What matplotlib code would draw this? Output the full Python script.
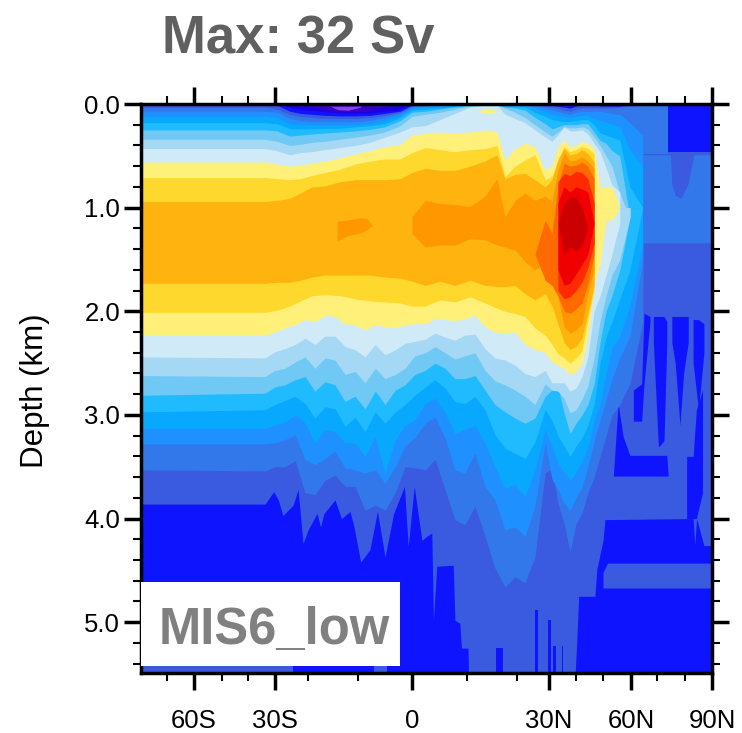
import numpy as np
import matplotlib
matplotlib.use("Agg")
import matplotlib.pyplot as plt
from matplotlib.patches import Rectangle

plt.rcParams['font.family'] = ['Liberation Sans', 'DejaVu Sans']
nan = np.nan

# non linear latitude axis of the original plot
axis_lat = [-80, -70, -60, -50, -40, -30, -20, -10, 0, 10, 20, 30, 40, 50, 60, 70, 80, 90]
axis_pos = [0, 26, 53, 81, 107, 134, 167, 217, 271, 326, 376, 408, 435, 462, 490, 516, 544, 571]

major_lat = [-60, -30, 0, 30, 60, 90]
major_names = ['60S', '30S', '0', '30N', '60N', '90N']
minor_lat = [-70, -50, -40, -20, -10, 10, 20, 40, 50, 70, 80]

# streamfunction levels: depth (km) of the upper and lower edge of each band
lat = [-80, -33.7, -29.4, -25.5, -22.4, -19.2, -16.6, -13.6, -10.6, -7.8,
       -5, -2.2, 0, 2.4, 5.1, 7.8, 10.6, 13.6, 16, 17.6,
       19.6, 22.5, 25.6, 28.8, 31.1, 33.3, 35.6, 37.8, 40, 42.2,
       44.4, 46.7, 48.9, 51.1, 53.2, 56, 59.6, 64.5, 64.7, 90]

# lower edges of bands 2-9 wiggle more, so they get a finer latitude list
lat_low = [-80, -33.7, -30, -27, -23.9, -20.9, -18.6, -16.6, -14.6, -12.6, -10.6, -8.7, -6.8, -5, -3.1, -1.3,
           .5, 2.4, 4.2, 6, 7.8, 9.6, 11.6, 13.6, 15.6, 17.6, 19.6, 22.5, 25.6, 28.8,
           31.1, 33.3, 35.6, 37.8, 40, 42.2, 44.4, 46.7, 48.9, 51.1, 53.2, 56, 59.6, 64.5, 64.7, 90]

surface_b0 = [0, 0, .01, .07, .09, .10, .11, .115, .115, .11,
              .09, .07, .01, 0, 0, 0, 0, 0, 0, 0,
              0, 0, 0, .01, .01, .02, .03, .04, .02, 0,
              0, 0, .02, .02, .02, .02, 0, 0, 0, 0]

top_b2 = [.03, .03, .05, .10, .12, .13, .14, .14, .14, .13,
          .11, .08, .02, .01, .01, .01, .01, .01, .01, .01,
          .01, .01, .01, .02, .03, .04, .06, .07, .05, .04,
          .04, .04, .04, .04, .04, .03, .02, .01, .01, nan]
bot_b2 = [3.53, 3.54, 3.50, 3.50, 3.44, 3.75, 3.77, 3.63, 3.58, 3.69, 3.69, 3.92, 3.87, 3.92, 3.75, 3.50,
          3.51, 3.53, 3.43, 3.72, 4.01, 4.06, 3.88, 4.17, 4.48, 4.66, 4.56, 4.62, 4.37, 3.56,
          3.52, 3.85, 4.05, 4.32, 4.05, 3.95, 3.75, 3.6, 3.4, 3.2, 3.0, 2.9, 2.7, 2.1, 1.34, nan]
top_b3 = [.07, .07, .08, .14, .16, .17, .17, .17, .17, .16,
          .13, .09, .03, .02, .01, .01, .01, .01, .01, .01,
          .01, .01, .02, .04, .06, .07, .09, .10, .08, .07,
          .07, .07, .07, .08, .09, .10, .18, .30, nan, nan]
bot_b3 = [3.28, 3.28, 3.27, 3.24, 3.19, 3.43, 3.48, 3.42, 3.35, 3.51, 3.53, 3.56, 3.53, 3.66, 3.50, 3.30,
          3.22, 3.08, 3.02, 3.22, 3.53, 3.56, 3.37, 3.69, 3.82, 4.11, 4.08, 4.17, 3.88, 3.27,
          3.62, 3.72, 3.85, 3.92, 3.80, 3.70, 3.50, 3.25, 3.05, 2.85, 2.65, 2.45, 2.24, 1.5, nan, nan]
top_b4 = [.12, .12, .13, .19, .20, .20, .20, .20, .20, .19,
          .16, .11, .04, .03, .02, .01, .01, .01, .01, .01,
          .01, .01, .04, .07, .10, .11, .12, .13, .12, .11,
          .11, .14, .16, .18, .19, .22, .44, .6, nan, nan]
bot_b4 = [3.13, 3.13, 3.10, 3.07, 3.00, 3.08, 3.27, 3.14, 3.16, 3.27, 3.27, 3.40, 3.21, 3.56, 3.24, 3.10,
          3.05, 2.89, 2.84, 2.98, 3.18, 3.14, 3.10, 3.27, 3.50, 3.71, 3.67, 3.79, 3.53, 3.14,
          3.30, 3.47, 3.55, 3.63, 3.55, 3.45, 3.32, 3.05, 2.89, 2.6, 2.35, 2.24, 1.95, 1.35, nan, nan]
top_b5 = [.18, .18, .19, .24, .24, .24, .235, .235, .22, .21,
          .19, .13, .06, .05, .04, .02, .01, .01, .01, .02,
          .02, .03, .08, .12, .15, .16, .17, .17, .16, .15,
          .15, .20, .28, .30, .32, .35, .80, 1.0, nan, nan]
bot_b5 = [2.97, 2.95, 2.90, 2.86, 2.82, 2.89, 3.03, 2.92, 2.94, 3.11, 3.02, 3.16, 2.97, 3.08, 2.97, 2.90,
          2.81, 2.73, 2.66, 2.74, 2.87, 2.89, 2.82, 2.95, 3.19, 3.32, 3.37, 3.42, 3.26, 2.95,
          3.05, 3.20, 3.30, 3.40, 3.30, 3.22, 3.10, 2.90, 2.5, 2.25, 2.10, 1.88, 1.6, 1.0, nan, nan]
top_b6 = [.25, .25, .26, .31, .30, .29, .28, .27, .26, .245,
          .22, .16, .08, .07, .05, .03, .01, .01, .01, .03,
          .04, .06, .13, .19, .24, .22, .20, .20, .20, .19,
          .19, .27, .35, .38, .45, .50, 1.1, nan, nan, nan]
bot_b6 = [2.81, 2.79, 2.73, 2.71, 2.66, 2.63, 2.77, 2.68, 2.71, 2.87, 2.82, 2.94, 2.77, 2.90, 2.76, 2.71,
          2.61, 2.57, 2.50, 2.55, 2.65, 2.65, 2.62, 2.76, 2.90, 2.97, 3.03, 3.08, 3.03, 2.82,
          2.76, 2.73, 2.98, 3.18, 3.08, 3.00, 2.90, 2.70, 2.3, 2.0, 1.85, 1.6, 1.1, nan, nan, nan]
top_b7 = [.34, .34, .36, .40, .39, .37, .36, .34, .32, .30,
          .27, .21, .12, .10, .08, .05, .02, .01, .01, .04,
          .08, .13, .20, .27, .31, .27, .22, .23, .23, .22,
          .24, .32, .40, .50, .60, .86, 1.1, nan, nan, nan]
bot_b7 = [2.62, 2.63, 2.57, 2.55, 2.49, 2.44, 2.55, 2.45, 2.47, 2.61, 2.58, 2.69, 2.55, 2.65, 2.61, 2.55,
          2.43, 2.40, 2.34, 2.40, 2.46, 2.43, 2.40, 2.57, 2.67, 2.71, 2.76, 2.82, 2.90, 2.70,
          2.76, 2.77, 2.84, 2.98, 2.95, 2.85, 2.72, 2.45, 2.1, 1.85, 1.65, 1.5, 1.1, nan, nan, nan]
top_b8 = [.43, .43, .45, .49, .47, .46, .44, .42, .40, .37,
          .32, .27, .22, .21, .15, .09, .03, .01, .01, .10,
          .14, .18, .25, .32, .36, .30, .22, .26, .26, .25,
          .29, .38, .46, .62, .78, .85, nan, nan, nan, nan]
bot_b8 = [2.44, 2.45, 2.39, 2.36, 2.32, 2.26, 2.32, 2.24, 2.24, 2.34, 2.37, 2.44, 2.32, 2.42, 2.37, 2.31,
          2.29, 2.27, 2.21, 2.25, 2.28, 2.23, 2.22, 2.36, 2.45, 2.47, 2.52, 2.60, 2.63, 2.57,
          2.69, 2.69, 2.69, 2.77, 2.74, 2.63, 2.44, 2.0, 1.85, 1.65, 1.45, 1.15, nan, nan, nan, nan]
top_b9 = [.56, .56, .58, .60, .59, .57, .55, .52, .48, .45,
          .41, .39, .30, .28, .27, .28, .27, .25, .27, .54,
          .43, .38, .41, .64, .60, .41, .35, .41, .40, .36,
          .38, .43, .80, .80, .80, 1.0, nan, nan, nan, nan]
bot_b9 = [2.23, 2.23, 2.20, 2.16, 2.13, 2.08, 2.10, 2.04, 2.05, 2.12, 2.13, 2.18, 2.13, 2.15, 2.16, 2.13,
          2.12, 2.12, 2.07, 2.08, 2.09, 2.07, 2.04, 2.15, 2.20, 2.21, 2.20, 2.32, 2.37, 2.40,
          2.49, 2.52, 2.55, 2.61, 2.58, 2.50, 2.24, 1.73, 1.55, 1.12, 1.12, 1.0, nan, nan, nan, nan]

top_b10 = [.71, .71, .72, .73, .72, .69, .66, .63, .58, .55,
           .53, .53, .47, .42, .44, .46, .44, .43, .40, .70,
           .60, .54, .49, .73, .70, .54, .41, .46, .44, .41,
           .43, .48, nan, nan, nan, nan, nan, nan, nan, nan]
bot_b10 = [2.01, 2.01, 1.99, 1.95, 1.90, 1.85, 1.84, 1.85, 1.88, 1.90,
           1.91, 1.92, 1.95, 1.95, 1.89, 1.91, 1.86, 1.92, 1.97, 2.00,
           2.02, 2.05, 2.16, 2.23, 2.32, 2.41, 2.45, 2.50, 2.45, 2.38,
           2.08, 1.80, nan, nan, nan, nan, nan, nan, nan, nan]
top_b11 = [.94, .94, .93, .91, .86, .80, .79, .75, .73, .73,
           .73, .72, .66, .62, .64, .64, .60, .55, .49, .72,
           .68, .67, .73, .80, .73, .54, .43, .49, .48, .44,
           .48, .56, nan, nan, nan, nan, nan, nan, nan, nan]
bot_b11 = [1.73, 1.73, 1.72, 1.72, 1.70, 1.67, 1.65, 1.65, 1.65, 1.65,
           1.67, 1.68, 1.71, 1.75, 1.71, 1.75, 1.70, 1.75, 1.76, 1.76,
           1.75, 1.83, 1.89, 1.83, 1.95, 2.12, 2.30, 2.37, 2.34, 2.26,
           2.02, 1.75, nan, nan, nan, nan, nan, nan, nan, nan]
top_b12 = [nan, nan, nan, nan, nan, nan, nan, nan, nan, nan,
           nan, nan, 1.09, .93, .96, .97, .99, .89, .72, 1.09,
           .93, .86, .93, .89, .94, .64, .47, .55, .54, .51,
           .55, .62, nan, nan, nan, nan, nan, nan, nan, nan]
bot_b12 = [nan, nan, nan, nan, nan, nan, nan, nan, nan, nan,
           nan, nan, 1.25, 1.38, 1.36, 1.36, 1.30, 1.31, 1.36, 1.38,
           1.41, 1.52, 1.60, 1.54, 1.62, 1.86, 2.15, 2.21, 2.18, 2.12,
           1.83, 1.60, nan, nan, nan, nan, nan, nan, nan, nan]

# core of the northern cell
top_b13 = [1.45, 1.12, 1.25, .78, .57, .60, .59, .56, .60, .72]
bot_b13 = [1.45, 1.70, 1.75, 1.85, 2.00, 2.02, 1.98, 1.92, 1.74, 1.45]
top_b14 = [.75, .67, .69, .65, .66, .72, .95]
bot_b14 = [1.80, 1.88, 1.86, 1.80, 1.72, 1.58, 1.35]
top_b15 = [.95, .80, .85, .80, .82, .85, 1.15]
bot_b15 = [1.6, 1.75, 1.73, 1.64, 1.55, 1.45, 1.15]
top_b16 = [1.15, .95, .90, .90, 1.0, 1.2]
bot_b16 = [1.15, 1.45, 1.38, 1.42, 1.36, 1.2]

# lower edge of band 1, spiky
lat_b1 = [-80, -33.7, -30.5, -29, -27.6, -24.5, -23, -21.5, -20, -18.2, -17.5, -16.8,
          -14.6, -13.3, -11.6, -10.8, -9.5, -7.8, -6.4, -5, -3.4, -1.4, -.7, .4, 1.8,
          2.7, 3.6, 3.9, 4.5, 7.5, 7.8, 8.7, 9, 10.2, 10.3, 39.7, 40.2, 41, 47, 47.7,
          50, 50.7, 83, 83.6, 84.3, 87, 90]
bot_b1 = [3.86, 3.86, 3.74, 3.82, 3.97, 3.87, 3.72, 4.24, 4.11, 3.95, 4.08, 3.95,
          3.82, 4.0, 3.93, 4.08, 4.42, 4.30, 3.93, 4.37, 3.95, 3.69, 4.27, 3.69, 4.21,
          4.17, 4.14, 4.98, 4.46, 4.45, 4.98, 5.01, 5.25, 5.25, 5.49, 5.49, 5.23, 4.75, 4.75, 4.49,
          4.21, 4.01, 4.0, 4.25, 4.0, 4.26, 4.26]

# small separate pieces of a band
island_lat = [-14.2, -12, -10, -8.5, -7.3]
island_top = [1.13, 1.12, 1.10, 1.10, 1.17]
island_bot = [1.32, 1.27, 1.25, 1.22, 1.17]
north_b1_lat = [50, 51.6, 90]
north_b1_top = [4.52, 4.43, 4.43]
north_b1_bot = [4.67, 4.67, 4.67]
north_b2_lat = [64.7, 74.8, 75.3, 76.5, 78.5, 81, 83.3, 90]
north_b2_top = [.49, .49, .78, .88, .91, .78, .49, .49]
north_b2_bot = [1.34, 1.34, 1.34, 1.34, 1.34, 1.34, 1.34, 1.34]
north_b2b_lat = [64.7, 72.5, 73.8]
north_b2b_top = [0, 0, 0]
north_b2b_bot = [.48, .48, .48]
strip_lat = [-80, -24.5]
strip_top = [5.42, 5.42]
strip_bot = [5.49, 5.49]
strip2_lat = [-7, -4.6]
yellow_lat = [13, 15.5]
yellow_top = [.06, .06]
yellow_bot = [.09, .09]

# negative cell at the surface
lens1_lat = [-28.5, -23.4, -15.6, -9, -2.8, -.4]
lens1_bot = [0, .05, .08, .09, .06, .01]
lens2_lat = [-23, -15.6, -9, -3.5]
lens2_bot = [0, .06, .065, .01]
lens3_lat = [-15.6, -14, -12, -9.5]
lens3_top = [.02, .02, .02, .02]
lens3_bot = [.02, .055, .06, .03]

# parts of the deep north where band 0 shows through band 1
hole_a_lat = [53.7, 55.4, 57.2, 59.6, 73.5, 74]
hole_a_top = [3.59, 2.89, 3.21, 3.39, 3.39, 3.59]
hole_a_bot = [3.59, 3.59, 3.59, 3.59, 3.59, 3.59]
hole_b_lat = [60.9, 64.1, 65, 67.3]
hole_b_top = [2.76, 2.70, 2.02, 2.05]
hole_b_bot = [3.06, 3.06, 2.70, 2.10]
hole_c_lat = [68.6, 70.5, 72.5, 73.5]
hole_c_top = [2.05, 2.05, 2.05, 2.10]
hole_c_bot = [2.3, 3.31, 3.25, 2.3]
hole_d_lat = [75.3, 76.5, 78.2, 79.5, 81.2]
hole_d_top = [2.05, 2.05, 2.05, 2.05, 2.05]
hole_d_bot = [2.3, 2.5, 3.1, 2.6, 2.3]
hole_e_lat = [83, 85, 87]
hole_e_top = [2.08, 2.08, 2.12]
hole_e_bot = [2.5, 2.95, 2.4]
hole_f_lat = [80.6, 83, 84.2, 86.5]
hole_f_top = [3.40, 3.40, 2.95, 2.76]
hole_f_bot = [4.0, 4.0, 4.0, 3.75]
hole_g_lat = [74, 90]
hole_g_top = [0, 0]
hole_g_bot = [.46, .46]
thin_lat = [[15.8, 17.2], [25.6, 26.5], [29.7, 30.6], [31.5, 32.5], [34.8, 35.3]]
thin_top = [5.25, 4.88, 4.98, 5.23, 5.23]

band_colors = ['#0f14ff', '#3a5ae0', '#3278ea', '#1f90ff', '#08a8ff', '#20bbff', '#70c8f5',
               '#a5d8f5', '#d0eaf8', '#fff07a', '#ffd82e', '#ffb30f', '#ff9800', '#ff6a00',
               '#ff2a00', '#f00000', '#cc0000']
lens_colors = ['#1c00e0', '#3b00c8', '#9040ee']
title_color = '#606060'
label_color = '#808080'


def to_axis(x):
    return np.interp(x, axis_lat, axis_pos)


def from_axis(x):
    return np.interp(x, axis_pos, axis_lat)


fig = plt.figure(figsize=(7.42, 7.33), dpi=100)
ax = fig.add_axes([141/742, 60/733, 571/742, 569/733])
ax.set_xscale('function', functions=(to_axis, from_axis))
ax.set_facecolor(band_colors[0])


def band(x, top, bot, color):
    ax.fill_between(x, top, bot, color=color, linewidth=0)


band(strip_lat, strip_top, strip_bot, band_colors[1])
band(strip2_lat, strip_top, strip_bot, band_colors[1])
band(lat_b1, 0, bot_b1, band_colors[1])
band(north_b1_lat, north_b1_top, north_b1_bot, band_colors[1])

for hx, ht, hb in [(hole_a_lat, hole_a_top, hole_a_bot), (hole_b_lat, hole_b_top, hole_b_bot),
                   (hole_c_lat, hole_c_top, hole_c_bot), (hole_d_lat, hole_d_top, hole_d_bot),
                   (hole_e_lat, hole_e_top, hole_e_bot), (hole_f_lat, hole_f_top, hole_f_bot),
                   (hole_g_lat, hole_g_top, hole_g_bot)]:
    band(hx, ht, hb, band_colors[0])
for hx, ht in zip(thin_lat, thin_top):
    band(hx, ht, 5.49, band_colors[0])

band(lat, 0, surface_b0, band_colors[0])
band(lens1_lat, 0, lens1_bot, lens_colors[0])
band(lens2_lat, 0, lens2_bot, lens_colors[1])
band(lens3_lat, lens3_top, lens3_bot, lens_colors[2])
band(north_b2_lat, north_b2_top, north_b2_bot, band_colors[2])
band(north_b2b_lat, north_b2b_top, north_b2b_bot, band_colors[2])

# upper part on lat, lower part on lat_low, they meet at 1 km
tops = [top_b2, top_b3, top_b4, top_b5, top_b6, top_b7, top_b8, top_b9]
bots = [bot_b2, bot_b3, bot_b4, bot_b5, bot_b6, bot_b7, bot_b8, bot_b9]
for i in range(len(tops)):
    top = np.array(tops[i])
    bot = np.array(bots[i])
    band(lat, top, np.where(np.isnan(top), nan, 1.0), band_colors[i+2])
    band(lat_low, np.where(np.isnan(bot), nan, 1.0), bot, band_colors[i+2])

band(lat, top_b10, bot_b10, band_colors[10])
band(lat, top_b11, bot_b11, band_colors[11])
band(lat, top_b12, bot_b12, band_colors[12])

band(yellow_lat, yellow_top, yellow_bot, band_colors[9])
band(island_lat, island_top, island_bot, band_colors[12])
band(lat[22:32], top_b13, bot_b13, band_colors[13])
band(lat[25:32], top_b14, bot_b14, band_colors[14])
band(lat[25:32], top_b15, bot_b15, band_colors[15])
band(lat[25:31], top_b16, bot_b16, band_colors[16])

ax.set_xlim(-80, 90)
ax.set_ylim(5.49, 0)
ax.set_xticks(major_lat)
ax.set_xticklabels(major_names)
ax.set_xticks(minor_lat, minor=True)
ax.set_yticks(np.arange(0, 5.5, 1.0))
ax.set_yticklabels(['0.0', '1.0', '2.0', '3.0', '4.0', '5.0'])
ax.set_yticks(np.arange(0, 5.5, 0.2), minor=True)
ax.tick_params(which='major', length=12, width=2.5, direction='out', labelsize=18.5,
               top=True, right=True)
ax.tick_params(which='minor', length=6, width=1.5, direction='out', top=True, right=True)
ax.tick_params(axis='x', which='major', pad=14)
ax.tick_params(axis='y', which='major', pad=3)
for s in ax.spines.values():
    s.set_linewidth(2.5)
ax.set_ylabel('Depth (km)', fontsize=22.5, va='center')
ax.yaxis.set_label_coords(-.186, .497)

ax.add_patch(Rectangle((0, .0123), .4536, .1477, transform=ax.transAxes, color='white', lw=0, zorder=3))
ax.text(.0315, .0505, 'MIS6_low', transform=ax.transAxes, color=label_color, fontsize=36.5,
        fontweight='bold', zorder=4)
fig.text(162/742, 1-53/733, 'Max: 32 Sv', color=title_color, fontsize=38, fontweight='bold')

fig.savefig('out.png', dpi=100)
